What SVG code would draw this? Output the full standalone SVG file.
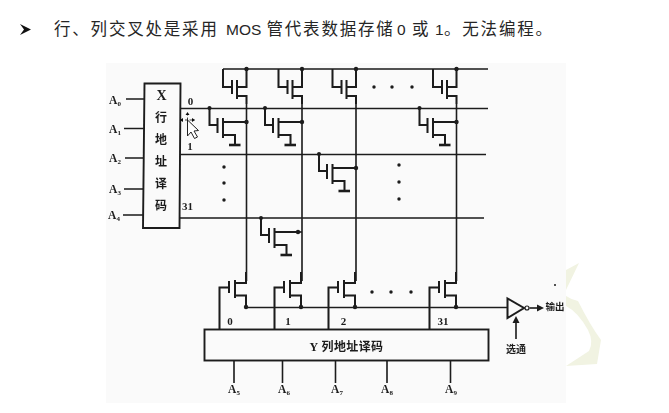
<svg xmlns="http://www.w3.org/2000/svg" width="669" height="413" viewBox="0 0 669 413">
<style>
.w{fill:none;stroke:#1c1c1c;stroke-width:1.6;stroke-linejoin:miter}
.t{fill:none;stroke:#1c1c1c;stroke-width:2}
.g{fill:none;stroke:#1c1c1c;stroke-width:2.6}
.box{fill:#fafafa;stroke:#1c1c1c;stroke-width:1.9}
.d{fill:#1c1c1c}
.l{font-family:"Liberation Serif","Noto Sans CJK SC",serif;font-weight:700;fill:#1c1c1c;text-anchor:middle}
.c{font-family:"Noto Sans CJK SC",sans-serif;font-weight:700;fill:#1c1c1c;text-anchor:middle}
.s{font-size:11.5px}.sub{font-size:7px}.n{font-size:11px}
.h{font-family:"Noto Sans CJK SC",sans-serif;font-size:16.5px;letter-spacing:1.8px;fill:#262626}
.m{font-family:"Liberation Sans",sans-serif;font-size:15.5px;letter-spacing:0;fill:#262626}
</style>
<defs>
<filter id="soft" x="0" y="0" width="1" height="1"><feGaussianBlur stdDeviation="0.4"/></filter>
<g id="passT">
<path class="t" d="M-23.500 0V18H-14.500M-14.500 11V25M-9.500 11V30M-9.500 18H0V0M-9.500 27H0V35"/>
<circle class="d" cx="0" cy="0" r="2.200"/>
</g>
<g id="cellT">
<path class="t" d="M-37 0V17H-29M-29 10V25M-23.500 10V30M-23.500 14H0M-23.500 27H-11.500V36"/>
<path class="g" d="M-17.500 37H-6"/>
<circle class="d" cx="-37" cy="0" r="2"/>
<circle class="d" cx="0" cy="14" r="2.200"/>
</g>
<g id="selT">
<path class="t" d="M-26.500 49V7.500H-17M-17 1V13M-11 0V18M-11 3H0V-8M-11 15.500H0V27"/>
<circle class="d" cx="0" cy="27" r="2.200"/>
</g>
</defs>
<rect width="669" height="413" fill="#fff"/>
<g id="watermark" fill="#f1f3e2">
<path d="M566 270L579 263L566 290Z"/>
<path d="M566 296Q572 300 578 301Q590 325 601 340L597 364L566 366L589 351Q594 342 588 330Q578 312 566 306Z"/>
</g>
<rect id="panel" x="106" y="63" width="460" height="340" fill="#fafafa"/>
<g id="heading">
<path d="M20 24L31 29.500L20 35L24 29.500Z" fill="#111"/>
<text y="35" class="h"><tspan x="54">行、列交叉处是采用</tspan><tspan x="226" class="m">MOS</tspan><tspan x="266.500">管代表数据存储</tspan><tspan x="397" class="m">0</tspan><tspan x="412">或</tspan><tspan x="435" class="m">1</tspan><tspan x="444">。无法编程。</tspan></text>
</g>
<g filter="url(#soft)">
<g id="connectors">
<path class="w" d="M223 69H488M180 108.500H488M180 154.500H486M180 218H484"/>
<path class="w" d="M246.500 104V281M302 104V281M356 104V281M456.500 104V281"/>
<path class="w" d="M246 296V307.500H507"/>
<path class="w" d="M126 99H144M124 128.500H144M125 158H144M124 189H144M123 215H143"/>
<path class="w" d="M234 360V383M282.500 360V383M335.500 360V383M387 360V383M450.500 360V383"/>
<path class="w" d="M529.500 308H538"/><path class="d" d="M544 308L537 304.500V311.500Z"/>
<path class="w" d="M516 339V322"/><path class="d" d="M516 316L512.500 323H519.500Z"/>
</g>
<g id="x-decoder">
<path class="box" d="M144.500 83.500H180.500L179.500 228H143Z"/>
<text class="l" x="161.500" y="100" font-size="14">X</text>
<text class="c" x="161" y="122" font-size="12">行</text>
<text class="c" x="161" y="144" font-size="12">地</text>
<text class="c" x="161" y="166" font-size="12">址</text>
<text class="c" x="161" y="188" font-size="12">译</text>
<text class="c" x="161" y="210" font-size="12">码</text>
</g>
<g id="x-address-labels">
<text class="l s" x="115" y="104">A<tspan class="sub" dy="2">0</tspan></text>
<text class="l s" x="115" y="133">A<tspan class="sub" dy="2">1</tspan></text>
<text class="l s" x="115" y="162">A<tspan class="sub" dy="2">2</tspan></text>
<text class="l s" x="115" y="193">A<tspan class="sub" dy="2">3</tspan></text>
<text class="l s" x="114" y="219">A<tspan class="sub" dy="2">4</tspan></text>
</g>
<g id="word-labels">
<text class="l n" x="190.500" y="105">0</text>
<text class="l n" x="190" y="150">1</text>
<text class="l n" x="187.500" y="210">31</text>
</g>
<g id="pull-up-1"><use href="#passT" x="246.500" y="69"/></g>
<g id="pull-up-2"><use href="#passT" x="302" y="69"/></g>
<g id="pull-up-3"><use href="#passT" x="356" y="69"/></g>
<g id="pull-up-4"><use href="#passT" x="456.500" y="69"/></g>
<g id="cell-0-0"><use href="#cellT" x="246.500" y="108"/></g>
<g id="cell-0-1"><use href="#cellT" x="302" y="108"/></g>
<g id="cell-0-31"><use href="#cellT" x="456.500" y="108"/></g>
<g id="cell-1-2"><use href="#cellT" x="356" y="154"/></g>
<g id="cell-31-1"><use href="#cellT" x="298" y="218"/><path class="w" d="M298 232H302"/></g>
<g id="select-0"><use href="#selT" x="246" y="280"/></g>
<g id="select-1"><use href="#selT" x="301" y="280"/></g>
<g id="select-2"><use href="#selT" x="355" y="280"/></g>
<g id="select-31"><use href="#selT" x="456" y="280"/></g>
<g id="ellipsis" class="d">
<circle cx="224" cy="167" r="1.700"/><circle cx="224" cy="183" r="1.700"/><circle cx="224" cy="200" r="1.700"/>
<circle cx="374" cy="87" r="1.700"/><circle cx="392" cy="87" r="1.700"/><circle cx="412" cy="87" r="1.700"/>
<circle cx="399" cy="165" r="1.700"/><circle cx="399" cy="182" r="1.700"/><circle cx="399" cy="199" r="1.700"/>
<circle cx="372" cy="292" r="1.700"/><circle cx="391" cy="292" r="1.700"/><circle cx="411" cy="292" r="1.700"/>
<circle cx="555" cy="285" r="1"/>
</g>
<g id="y-decoder">
<rect class="box" x="204.500" y="329.500" width="284" height="31"/>
<text class="l" x="346.500" y="351" font-size="12" letter-spacing=".4">Y 列地址译码</text>
</g>
<g id="column-labels">
<text class="l n" x="230" y="325">0</text>
<text class="l n" x="288" y="325">1</text>
<text class="l n" x="343.500" y="325">2</text>
<text class="l n" x="443" y="325">31</text>
</g>
<g id="y-address-labels">
<text class="l s" x="234" y="393">A<tspan class="sub" dy="2">5</tspan></text>
<text class="l s" x="284" y="393">A<tspan class="sub" dy="2">6</tspan></text>
<text class="l s" x="337" y="393">A<tspan class="sub" dy="2">7</tspan></text>
<text class="l s" x="387" y="393">A<tspan class="sub" dy="2">8</tspan></text>
<text class="l s" x="451" y="393">A<tspan class="sub" dy="2">9</tspan></text>
</g>
<g id="output-buffer">
<path class="t" d="M507.500 298.500V318L524 308Z" fill="#fafafa"/>
<circle cx="527" cy="308" r="2" fill="#fafafa" stroke="#1c1c1c" stroke-width="1.200"/>
<text class="c" x="555" y="310" font-size="9.500">输出</text>
<text class="c" x="516" y="353" font-size="10">选通</text>
</g>
<g id="cursor">
<path d="M187.500 120V136L191 132L194.500 138.500L197.500 137L194 131L198.500 130.500Z" fill="#fff" stroke="#222" stroke-width="1"/>
<path d="M187.500 113V120M180.500 120H194.500" fill="none" stroke="#111" stroke-width=".8" stroke-dasharray="2.500 2"/>
<path d="M187.500 112L185.500 115H189.500ZM180 120L183 118V122ZM195 120L192 118V122Z" fill="#111"/>
</g>
</g>
</svg>
